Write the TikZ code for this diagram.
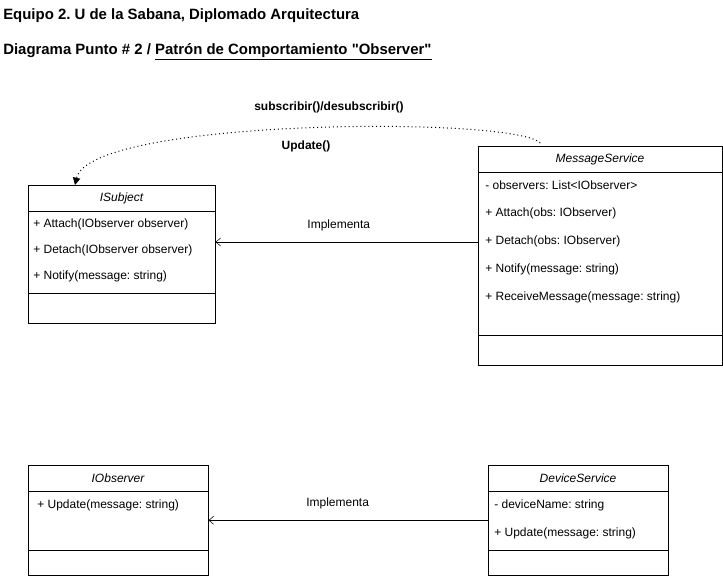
\documentclass[tikz,border=0pt]{standalone}
\usepackage{fontspec}
\setmainfont{Liberation Sans}[Ligatures=TeXOff]
\usetikzlibrary{arrows.meta}
\frenchspacing

\tikzset{
  classbox/.style={draw, inner sep=0pt, anchor=north west},
  classname/.style={font=\fontsize{9}{11}\selectfont\itshape},
  member/.style={anchor=west, inner sep=0pt, font=\fontsize{9}{11}\selectfont},
  heading/.style={anchor=west, inner sep=0pt, font=\fontsize{11.2}{13}\selectfont\bfseries},
  implements/.style={-{Straight Barb[length=3.5pt, width=6pt]}},
  calls/.style={line width=0.75pt, dash pattern=on 0.75pt off 2.2pt, -{Triangle[length=5.5pt, width=5.5pt]}},
}

\begin{document}
\begin{tikzpicture}[x=0.75pt, y=-0.75pt]
    \useasboundingbox (0,0) rectangle (723,576);

    % titles
    \node[heading] (title) at (3,16) {Equipo 2. U de la Sabana, Diplomado Arquitectura};
    \node[heading] (subtitle) at (3,52) {Diagrama Punto \# 2 / \underline{Patrón de Comportamiento "Observer"}};

    % ISubject
    \node[classbox, minimum width=140.25pt, minimum height=103.5pt] (isubject) at (28,185) {};
    \draw (28,211) -- (215,211);
    \draw (28,293) -- (215,293);
    \node[classname] (isubjectname) at (121.5,198) {ISubject};
    \node[member] (attach) at (33,224) {+ Attach(IObserver observer)};
    \node[member] (detach) at (33,250) {+ Detach(IObserver observer)};
    \node[member] (notify) at (33,276) {+ Notify(message: string)};

    % MessageService
    \node[classbox, minimum width=183pt, minimum height=164.25pt] (msgsvc) at (478,146) {};
    \draw (478,172) -- (722,172);
    \draw (478,335) -- (722,335);
    \node[classname] (msgsvcname) at (600,159) {MessageService};
    \node[member] (observers) at (485,185) {- observers: List<IObserver>};
    \node[member] (msattach) at (485,213) {+ Attach(obs: IObserver)};
    \node[member] (msdetach) at (485,241) {+ Detach(obs: IObserver)};
    \node[member] (msnotify) at (485,269) {+ Notify(message: string)};
    \node[member] (receive) at (485,297) {+ ReceiveMessage(message: string)};

    % IObserver
    \node[classbox, minimum width=135pt, minimum height=82.5pt] (iobserver) at (28,465) {};
    \draw (28,491) -- (208,491);
    \draw (28,550) -- (208,550);
    \node[classname] (iobservername) at (118,478) {IObserver};
    \node[member] (update) at (37,505) {+ Update(message: string)};

    % DeviceService
    \node[classbox, minimum width=135pt, minimum height=82.5pt] (devsvc) at (488,465) {};
    \draw (488,491) -- (668,491);
    \draw (488,550) -- (668,550);
    \node[classname] (devsvcname) at (578,478) {DeviceService};
    \node[member] (devname) at (494,505) {- deviceName: string};
    \node[member] (devupdate) at (494,533) {+ Update(message: string)};

    % connectors
    \coordinate (implrow) at (0,242);
    \draw[implements] (msgsvc.west |- implrow) -- (isubject.east |- implrow)
        node[midway, above=5pt, xshift=-6pt, font=\fontsize{9}{11}\selectfont] {Implementa};
    \draw[implements] (devsvc.west) -- (iobserver.east)
        node[midway, above=5pt, xshift=-8pt, font=\fontsize{9}{11}\selectfont] {Implementa};

    \draw[calls] ([xshift=-45pt, yshift=2.25pt]msgsvc.north)
        .. controls (515,116) and (90,118) .. ([xshift=35.25pt]isubject.north west);
    \node[font=\fontsize{9}{11}\selectfont\bfseries] (subs) at (329,107) {subscribir()/desubscribir()};
    \node[font=\fontsize{9}{11}\selectfont\bfseries] (upd) at (306,146) {Update()};
\end{tikzpicture}
\end{document}
